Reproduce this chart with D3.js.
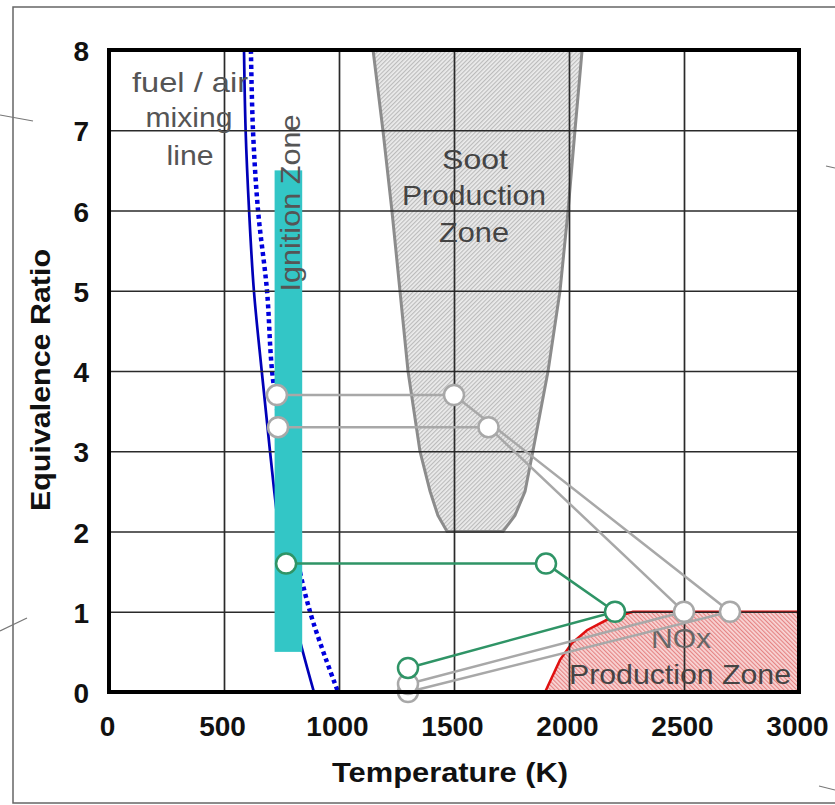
<!DOCTYPE html>
<html lang="en">
  <head>
    <meta charset="UTF-8" />
    <title>Equivalence Ratio vs Temperature</title>
    <script src="https://d3js.org/d3.v7.min.js"></script>
    <style>
      body {
        margin: 0;
        background: #fff;
        font-family: "Liberation Sans", Arial, sans-serif;
      }
      svg {
        display: block;
      }
    </style>
  </head>
  <body>
    <svg id="chart" width="835" height="805"></svg>
    <script>
      // axis ticks
      const xTicks = [0, 500, 1000, 1500, 2000, 2500, 3000];
      const yTicks = [0, 1, 2, 3, 4, 5, 6, 7, 8];

      // fuel / air mixing lines (phi from 8 down to 0)
      const mixPhi = [8, 7, 6, 5, 4, 3, 2, 1, 0];
      const mixSolidT = [587, 594, 609, 630, 664, 700, 740, 800, 891];
      const mixDottedT = [617, 626, 648, 687, 709, 757, 796, 874, 996];

      // ignition zone band
      const ignitionT = [720, 840];
      const ignitionPhi = [0.5, 6.5];

      // soot production zone outline
      const sootT = [1148, 1191, 1230, 1265, 1300, 1352, 1396, 1430, 1470, 1713, 1765, 1809, 1843, 1909, 1961, 1996, 2026, 2057];
      const sootPhi = [8, 7, 6, 5, 4, 3, 2.5, 2.2, 2, 2, 2.2, 2.5, 3, 4, 5, 6, 7, 8];

      // NOx production zone outline
      const noxT = [1896, 1961, 2013, 2078, 2165, 2278, 3000, 3000];
      const noxPhi = [0, 0.4, 0.61, 0.77, 0.9, 1.0, 1.0, 0];

      // combustor paths
      const grayAT = [730, 1500, 2700, 1300];
      const grayAPhi = [3.7, 3.7, 1.0, 0.0];
      const grayBT = [735, 1650, 2500, 1300];
      const grayBPhi = [3.3, 3.3, 1.0, 0.1];
      const greenT = [770, 1900, 2200, 1300];
      const greenPhi = [1.6, 1.6, 1.0, 0.3];

      const svg = d3.select("#chart");
      const pLeft = 109, pRight = 799, pTop = 50, pBottom = 692;

      const x = d3.scaleLinear().domain([0, 3000]).range([pLeft, pRight]);
      const y = d3.scaleLinear().domain([0, 8]).range([pBottom, pTop]);

      const defs = svg.append("defs");

      const soot = defs.append("pattern")
        .attr("id", "sootHatch")
        .attr("patternUnits", "userSpaceOnUse")
        .attr("width", 3).attr("height", 3)
        .attr("patternTransform", "rotate(45)");
      soot.append("rect").attr("width", 3).attr("height", 3).attr("fill", "#ececec");
      soot.append("line").attr("x1", 0.6).attr("y1", 0).attr("x2", 0.6).attr("y2", 3)
        .attr("stroke", "#b9b9b9").attr("stroke-width", 1.1);

      const nox = defs.append("pattern")
        .attr("id", "noxHatch")
        .attr("patternUnits", "userSpaceOnUse")
        .attr("width", 3).attr("height", 3)
        .attr("patternTransform", "rotate(-45)");
      nox.append("rect").attr("width", 3).attr("height", 3).attr("fill", "#f9d6d6");
      nox.append("line").attr("x1", 0.6).attr("y1", 0).attr("x2", 0.6).attr("y2", 3)
        .attr("stroke", "#e48080").attr("stroke-width", 1.1);

      defs.append("clipPath").attr("id", "plotClip")
        .append("rect")
        .attr("x", pLeft).attr("y", pTop)
        .attr("width", pRight - pLeft).attr("height", pBottom - pTop);

      // outer frame and stray marks
      svg.append("rect")
        .attr("x", 13).attr("y", 7).attr("width", 860).attr("height", 796)
        .attr("fill", "none").attr("stroke", "#666").attr("stroke-width", 1.5);
      const stray = svg.append("g").attr("stroke", "#777").attr("stroke-width", 1.2);
      stray.append("line").attr("x1", 0).attr("y1", 115).attr("x2", 33).attr("y2", 121);
      stray.append("line").attr("x1", 0).attr("y1", 631).attr("x2", 27).attr("y2", 618);
      stray.append("line").attr("x1", 826).attr("y1", 166).attr("x2", 835).attr("y2", 168);
      stray.append("line").attr("x1", 819).attr("y1", 786).attr("x2", 835).attr("y2", 790);

      const plot = svg.append("g").attr("clip-path", "url(#plotClip)");

      const pts = (ts, ps) => ts.map((t, i) => [t, ps[i]]);
      const line = d3.line().x((d) => x(d[0])).y((d) => y(d[1]));

      // zones
      plot.append("path")
        .attr("d", line(pts(sootT, sootPhi)) + "Z")
        .attr("fill", "url(#sootHatch)");
      plot.append("path")
        .attr("d", line(pts(noxT, noxPhi)) + "Z")
        .attr("fill", "url(#noxHatch)");

      // grid via axes
      const xAxis = d3.axisBottom(x)
        .tickValues(xTicks)
        .tickSize(-(pBottom - pTop))
        .tickPadding(24)
        .tickFormat(d3.format("d"));
      const gx = svg.append("g")
        .attr("transform", `translate(0,${pBottom})`)
        .call(xAxis);
      const yAxis = d3.axisLeft(y)
        .tickValues(yTicks)
        .tickSize(-(pRight - pLeft))
        .tickPadding(20);
      const gy = svg.append("g")
        .attr("transform", `translate(${pLeft},0)`)
        .call(yAxis);

      [gx, gy].forEach((g) => {
        g.select(".domain").remove();
        g.selectAll(".tick line").attr("stroke", "#2a2a2a").attr("stroke-width", 1.7);
        g.selectAll(".tick text")
          .attr("fill", "#111")
          .attr("font-family", "'Liberation Sans', Arial, sans-serif")
          .attr("font-size", 28)
          .attr("font-weight", "bold");
      });
      gx.selectAll(".tick text").attr("dx", -2);
      gy.selectAll(".tick text").attr("dy", "0.38em");

      // zone outlines
      plot.append("path")
        .attr("d", line(pts(sootT, sootPhi)) + "Z")
        .attr("fill", "none")
        .attr("stroke", "#8c8c8c")
        .attr("stroke-width", 3);
      plot.append("path")
        .attr("d", line(pts(noxT.slice(0, 7), noxPhi.slice(0, 7))))
        .attr("fill", "none")
        .attr("stroke", "#e01010")
        .attr("stroke-width", 2.5);

      // ignition zone
      svg.append("rect")
        .attr("x", x(ignitionT[0]))
        .attr("y", y(ignitionPhi[1]))
        .attr("width", x(ignitionT[1]) - x(ignitionT[0]))
        .attr("height", y(ignitionPhi[0]) - y(ignitionPhi[1]))
        .attr("fill", "#33c6c6");

      // annotation text
      const note = (tx, ty, str, len, opts = {}) => {
        const t = svg.append("text")
          .attr("x", tx).attr("y", ty)
          .attr("text-anchor", "middle")
          .attr("font-family", "'Liberation Sans', Arial, sans-serif")
          .attr("font-size", opts.size || 28)
          .attr("font-weight", opts.weight || "normal")
          .attr("fill", opts.fill || "#555")
          .text(str);
        if (len) t.attr("textLength", len).attr("lengthAdjust", "spacingAndGlyphs");
        if (opts.rotate) t.attr("transform", `rotate(${opts.rotate},${tx},${ty})`);
        return t;
      };

      note(190, 92, "fuel / air", 116);
      note(189, 127, "mixing", 87);
      note(190, 165, "line", 47);
      note(300, 203, "Ignition Zone", 177, { rotate: -90, fill: "#555" });
      note(475, 169, "Soot", 66, { fill: "#444" });
      note(474, 205, "Production", 144, { fill: "#444" });
      note(474, 242, "Zone", 70, { fill: "#444" });
      note(681, 648, "NOx", 60, { fill: "#666" });
      note(680, 684, "Production Zone", 222, { fill: "#444" });

      // axis titles
      note(450, 782, "Temperature (K)", 236, { weight: "bold", fill: "#111" });
      note(50, 380, "Equivalence Ratio", 262, { weight: "bold", fill: "#111", rotate: -90 });

      // fuel / air mixing lines
      const mixLine = d3.line()
        .x((d) => x(d[0])).y((d) => y(d[1]))
        .curve(d3.curveCatmullRom);
      plot.append("path")
        .attr("d", mixLine(pts(mixSolidT, mixPhi)))
        .attr("fill", "none")
        .attr("stroke", "#0000b8")
        .attr("stroke-width", 2.7);
      plot.append("path")
        .attr("d", mixLine(pts(mixDottedT, mixPhi)))
        .attr("fill", "none")
        .attr("stroke", "#0000dd")
        .attr("stroke-width", 4.5)
        .attr("stroke-dasharray", "4,3.5");

      // combustor paths
      const paths = [
        { t: grayAT, p: grayAPhi, color: "#a8a8a8" },
        { t: grayBT, p: grayBPhi, color: "#a8a8a8" },
        { t: greenT, p: greenPhi, color: "#2f9466" },
      ];
      paths.forEach((s) => {
        svg.append("path")
          .attr("d", line(pts(s.t, s.p)))
          .attr("fill", "none")
          .attr("stroke", s.color)
          .attr("stroke-width", 2.5);
      });
      paths.forEach((s) => {
        svg.append("g")
          .selectAll("circle")
          .data(pts(s.t, s.p))
          .join("circle")
          .attr("cx", (d) => x(d[0]))
          .attr("cy", (d) => y(d[1]))
          .attr("r", 10)
          .attr("fill", "#fff")
          .attr("stroke", s.color)
          .attr("stroke-width", 2.5);
      });

      // plot frame
      svg.append("rect")
        .attr("x", pLeft).attr("y", pTop)
        .attr("width", pRight - pLeft).attr("height", pBottom - pTop)
        .attr("fill", "none")
        .attr("stroke", "#000")
        .attr("stroke-width", 4);
    </script>
  </body>
</html>
